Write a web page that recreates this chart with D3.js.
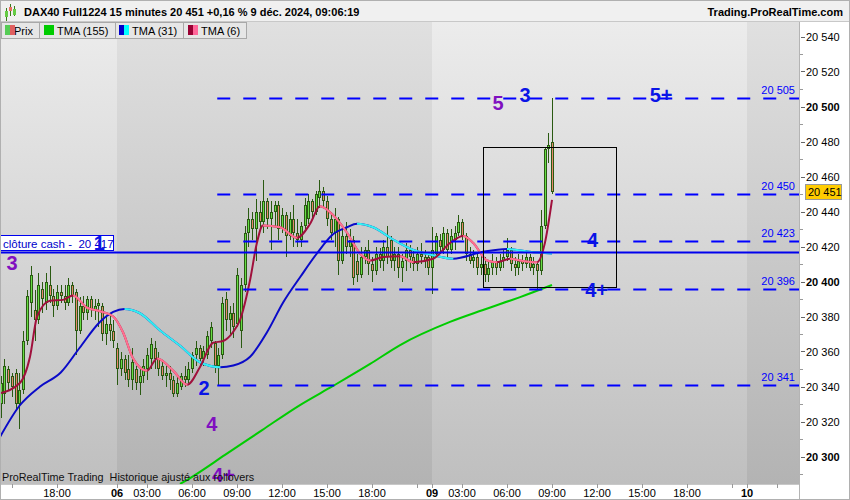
<!DOCTYPE html>
<html><head><meta charset="utf-8">
<script src="https://cdn.jsdelivr.net/npm/d3@7/dist/d3.min.js"></script>
<style>
html,body{margin:0;padding:0;background:#fff;}
svg{display:block;font-family:"Liberation Sans",Arial,sans-serif;}
text{white-space:pre;}
</style></head>
<body>
<svg id="chart" width="850" height="500"></svg>
<script>
// ================= DATA =================
// 15-minute bars, DAX40 Full1224, from 5 Dec 14:15 to 9 Dec 09:00
const barOpen  = [20330,20336,20350,20346,20348,20330,20338,20366,20388,20384,20378,20396,20388,20398,20392,20386,20394,20392,20388,20398,20394,20372,20386,20382,20390,20384,20386,20386,20370,20376,20372,
20362,20350,20356,20350,20344,20350,20342,20346,20350,20356,20362,20356,20352,20346,20348,20344,20336,20340,20346,20344,20350,20358,20362,20356,20358,20366,20365,20352,20358,20390,20378,20382,20376,20372,20398,20428,20436,20430,20440,20434,20446,20436,20440,20444,20430,20438,20426,20436,20428,20424,20432,20436,20446,20440,20448,20452,20446,20436,20428,20436,20412,20426,20420,20424,20412,20404,20414,20418,20410,20406,20416,20412,20420,20424,20412,20416,20408,20412,20418,20414,20410,20416,20414,20414,
20408,20416,20424,20418,20428,20418,20424,20428,20434,20426,20416,20412,20414,20408,20410,20404,20408,20412,20408,20412,20414,20418,20410,20408,20412,20410,20414,20408,20410,20406,20432,20476,20480];
const barHigh  = [20346,20356,20352,20348,20350,20348,20372,20395,20409,20395,20405,20400,20405,20409,20396,20398,20398,20398,20402,20400,20396,20391,20392,20392,20392,20390,20390,20388,20380,20382,20378,
20365,20360,20358,20358,20362,20352,20350,20356,20362,20368,20366,20360,20354,20352,20352,20346,20346,20348,20352,20354,20360,20366,20364,20363,20372,20377,20366,20362,20391,20394,20386,20388,20408,20402,20432,20442,20440,20447,20446,20458,20448,20446,20446,20446,20442,20440,20440,20444,20436,20434,20448,20450,20447,20452,20458,20454,20449,20440,20442,20437,20430,20434,20430,20426,20416,20420,20420,20424,20414,20420,20419,20424,20432,20426,20420,20420,20416,20422,20421,20418,20420,20422,20418,20416,
20431,20428,20427,20431,20430,20430,20432,20438,20436,20428,20420,20418,20416,20416,20414,20412,20416,20414,20416,20418,20425,20420,20414,20416,20415,20418,20416,20414,20412,20441,20477,20485,20505];
const barLow   = [20322,20330,20338,20334,20326,20316,20336,20364,20380,20366,20376,20382,20384,20388,20380,20384,20388,20384,20386,20388,20358,20370,20378,20378,20380,20378,20374,20366,20364,20366,20362,
20341,20346,20344,20340,20338,20338,20335,20342,20344,20350,20350,20346,20344,20340,20338,20334,20334,20338,20340,20342,20348,20352,20352,20352,20356,20362,20348,20341,20356,20372,20370,20368,20374,20362,20394,20420,20424,20412,20430,20428,20430,20418,20432,20424,20428,20414,20424,20420,20420,20420,20430,20433,20436,20438,20442,20442,20432,20424,20420,20404,20410,20416,20414,20398,20400,20402,20410,20404,20400,20404,20408,20406,20410,20408,20406,20402,20400,20406,20408,20406,20406,20410,20408,20404,
20393,20414,20416,20416,20414,20416,20418,20426,20424,20412,20410,20408,20404,20404,20400,20400,20404,20404,20406,20408,20412,20406,20403,20404,20406,20408,20406,20404,20396,20404,20430,20468,20450];
const barClose = [20342,20352,20342,20340,20330,20338,20366,20392,20404,20378,20398,20390,20400,20392,20386,20394,20392,20388,20398,20392,20372,20386,20382,20390,20384,20386,20388,20370,20376,20372,20366,
20350,20356,20348,20344,20354,20342,20346,20352,20358,20364,20356,20350,20346,20348,20344,20336,20342,20346,20344,20350,20358,20362,20356,20360,20369,20374,20352,20358,20388,20378,20382,20374,20404,20398,20428,20436,20430,20440,20434,20446,20436,20440,20444,20430,20438,20426,20436,20428,20424,20432,20444,20446,20440,20450,20452,20446,20436,20428,20436,20412,20426,20420,20424,20402,20404,20414,20418,20410,20406,20416,20412,20420,20414,20412,20416,20408,20412,20418,20414,20410,20416,20414,20412,20408,
20418,20426,20420,20428,20418,20426,20428,20434,20426,20416,20412,20414,20408,20410,20404,20408,20412,20408,20412,20414,20418,20410,20408,20412,20410,20414,20408,20410,20406,20432,20476,20478,20451];

// time of first bar, in trading hours after 5 Dec 18:00 (sessions 01:00-22:00 joined)
const firstBarHour = -3.75;
const barHours = 0.25;

// x axis ticks (trading hours after 5 Dec 18:00) and labels
const xTickHours  = [-3, 0, 4, 6, 9, 12, 15, 18, 21, 24, 25, 27, 30, 33, 36, 39, 42, 45, 46, 48];
const xTickLabels = ["", "18:00", "06", "03:00", "06:00", "09:00", "12:00", "15:00", "18:00", "", "09", "03:00", "06:00", "09:00", "12:00", "15:00", "18:00", "", "10", ""];
const dayStartHours = [-10, 4, 25, 46];

// y axis ticks
const yTickValues = [20300, 20320, 20340, 20360, 20380, 20400, 20420, 20440, 20460, 20480, 20500, 20520, 20540];
const yMinorValues = [20290, 20310, 20330, 20350, 20370, 20390, 20410, 20430, 20450, 20470, 20490, 20510, 20530, 20550];
const yBoldValues = [20300, 20400, 20500];

// horizontal levels
const levelValues = [20505, 20450, 20423, 20396, 20341];
const levelStartBar = 58;
const cashValue = 20417;
const lastPrice = 20451;

// moving averages (bar index, value)
const tma155Idx = [47.8, 50.5, 59.8, 69.7, 79.8, 88.6, 98.5, 106.5, 119.8, 128.6, 138.5, 147];
const tma155Val = [20284.3, 20287.7, 20300.9, 20315.1, 20329.4, 20340.3, 20352.9, 20363.7, 20376.9, 20383.7, 20391.1, 20398];

const tma31Idx = [-0.5, 5, 10.5, 16, 21, 26.5, 30, 33, 37, 42.5, 48, 53, 58.5, 62, 66.5, 71, 75.3, 80, 84.3, 88.6, 92.3, 95, 99.3, 104.6, 110, 115.3, 120.6, 128.6, 135, 141, 147];
const tma31Val = [20310, 20329, 20340, 20348, 20362, 20377, 20382.6, 20384.3, 20382, 20372, 20363, 20354, 20351, 20352, 20357, 20371, 20388, 20403, 20416, 20427, 20431, 20433, 20431, 20424, 20418, 20415, 20413, 20417, 20418.6, 20417, 20416];

const tma6Idx = [-0.5, 5.1, 7.8, 9.7, 13.1, 16.6, 19.3, 23, 26.5, 30, 32.6, 35.3, 39, 41.7, 46, 49.7, 53.1, 56.6, 59.3, 61.9, 63.8, 66.5, 68.3, 69.9, 74.5, 79, 82.5, 85.1, 88.6, 92.3, 95.8, 98.5, 102, 106.5, 110, 115.3, 119.8, 123.3, 126, 129.7, 132.3, 135.8, 138.5, 143, 145.1, 147];
const tma6Val = [20336, 20342, 20357, 20380, 20389, 20389.5, 20392, 20385, 20383, 20380, 20371, 20356, 20349, 20356, 20349, 20341, 20351, 20365, 20366, 20371, 20378, 20401, 20422, 20432, 20431, 20425, 20433, 20443, 20438, 20428, 20416, 20412, 20414, 20414.5, 20411, 20413, 20422, 20426, 20422, 20412, 20411, 20413, 20412, 20411, 20422, 20446.6];

// Elliott wave annotations (bar index, price of baseline)
const waveText  = ["3", "1", "2", "4", "4+", "5", "3", "5+", "4", "4+"];
const waveIdx   = [3.0, 26.3, 54.2, 56.3, 59.4, 132.6, 139.8, 176.1, 157.8, 158.9];
const wavePrice = [20406.6, 20418, 20335.1, 20314.6, 20285.4, 20498, 20502.6, 20502.6, 20419.7, 20391.1];
const waveIsPurple = [true, false, false, true, true, true, false, false, false, false];

// box
const boxIdx = [128.6, 164.1];
const boxPrice = [20477, 20397];

// ================= DRAWING =================
const W = 850, H = 500;
const PL = 0, PR = 799, PT = 22, PB = 484;
const svg = d3.select("#chart");
const defs = svg.append("defs");

const x = d3.scaleLinear().domain([0, 33]).range([57, 552]);
const y = d3.scaleLinear().domain([20300, 20500]).range([456.5, 106.5]);
const barX = i => x(firstBarHour + i * barHours);

const fmt = v => d3.format(",")(v).replace(/,/g, " ");

// gradients
function grad(id, c1, c2) {
  const g = defs.append("linearGradient").attr("id", id).attr("x1", 0).attr("y1", 0).attr("x2", 0).attr("y2", 1);
  g.append("stop").attr("offset", 0).attr("stop-color", c1);
  g.append("stop").attr("offset", 1).attr("stop-color", c2);
}
grad("gLight", "#ececec", "#bfbfbf");
grad("gDark", "#e0e0e0", "#b3b3b3");

svg.append("rect").attr("width", W).attr("height", H).attr("fill", "#ffffff");
// header
svg.append("rect").attr("x", 0).attr("y", 0).attr("width", W).attr("height", PT).attr("fill", "#f0f0f0");

// plot clip
defs.append("clipPath").attr("id", "plotClip").append("rect")
  .attr("x", PL).attr("y", PT).attr("width", PR - PL).attr("height", PB - PT);

const plot = svg.append("g").attr("clip-path", "url(#plotClip)");

// day bands
dayStartHours.forEach((h, k) => {
  const x0 = Math.max(PL, x(h));
  const x1 = k < dayStartHours.length - 1 ? x(dayStartHours[k + 1]) : PR;
  plot.append("rect").attr("x", x0).attr("y", PT).attr("width", Math.min(PR, x1) - x0).attr("height", PB - PT)
    .attr("fill", k % 2 === 0 ? "url(#gLight)" : "url(#gDark)");
});

// candles
const wickCol = "#2a5a12", upCol = "#66dd44", dnCol = "#e8866c";
const candles = plot.append("g").attr("shape-rendering", "crispEdges");
barOpen.forEach((o, i) => {
  const c = barClose[i];
  const r = Math.round(barX(i));
  candles.append("line").attr("x1", r + 0.5).attr("x2", r + 0.5)
    .attr("y1", y(barHigh[i])).attr("y2", y(barLow[i])).attr("stroke", wickCol).attr("stroke-width", 1);
  const top = Math.round(y(Math.max(o, c))), bot = Math.round(y(Math.min(o, c)));
  const h = Math.max(2, bot - top);
  candles.append("rect").attr("x", r - 1).attr("y", top).attr("width", 3).attr("height", h).attr("fill", wickCol);
  if (h > 2) candles.append("rect").attr("x", r).attr("y", top + 1).attr("width", 1).attr("height", h - 2)
    .attr("fill", c >= o ? upCol : dnCol);
});

// moving-average helper with slope colouring
let clipN = 0;
function maLine(idx, val, upColor, downColor, width) {
  const pts = idx.map((d, k) => [barX(d), y(val[k])]);
  const gen = d3.line().curve(d3.curveMonotoneX);
  plot.append("path").attr("d", gen(pts)).attr("fill", "none").attr("stroke", upColor)
    .attr("stroke-width", width).attr("stroke-linejoin", "round");
  if (downColor) {
    const id = "maclip" + (clipN++);
    const cp = defs.append("clipPath").attr("id", id);
    for (let k = 0; k < pts.length - 1; k++) {
      if (val[k + 1] < val[k]) {
        cp.append("rect").attr("x", pts[k][0]).attr("y", 0).attr("width", pts[k + 1][0] - pts[k][0] + 0.3).attr("height", H);
      }
    }
    plot.append("path").attr("d", gen(pts)).attr("fill", "none").attr("stroke", downColor)
      .attr("stroke-width", width).attr("stroke-linejoin", "round").attr("clip-path", "url(#" + id + ")");
  }
}
maLine(tma155Idx, tma155Val, "#00cc00", null, 2);
maLine(tma31Idx, tma31Val, "#0a0ac8", "#33f0f0", 2);
maLine(tma6Idx, tma6Val, "#a0103c", "#ff7090", 2);

// dashed levels
levelValues.forEach(v => {
  plot.append("line").attr("x1", barX(levelStartBar) - 1).attr("x2", PR)
    .attr("y1", Math.round(y(v)) + 0.5).attr("y2", Math.round(y(v)) + 0.5)
    .attr("stroke", "#0000ff").attr("stroke-width", 2).attr("stroke-dasharray", "13,13");
  plot.append("text").attr("x", 795).attr("y", Math.round(y(v)) - 4).attr("text-anchor", "end")
    .attr("font-size", 11).attr("fill", "#0000ff").text(fmt(v));
});

// cash close line
plot.append("line").attr("x1", PL).attr("x2", PR).attr("y1", Math.round(y(cashValue)) + 0.5).attr("y2", Math.round(y(cashValue)) + 0.5)
  .attr("stroke", "#0000ee").attr("stroke-width", 2);
plot.append("rect").attr("x", 0.5).attr("y", Math.round(y(cashValue)) - 16.5).attr("width", 113).attr("height", 15)
  .attr("fill", "#ffffff").attr("stroke", "#0000ee").attr("stroke-width", 1);
plot.append("text").attr("x", 3).attr("y", Math.round(y(cashValue)) - 4.5).attr("font-size", 11.5).attr("fill", "#0000cc")
  .text("clôture cash -  " + fmt(cashValue));

// box
plot.append("rect").attr("x", Math.round(barX(boxIdx[0])) + 0.5).attr("y", Math.round(y(boxPrice[0])) + 0.5)
  .attr("width", Math.round(barX(boxIdx[1]) - barX(boxIdx[0]))).attr("height", Math.round(y(boxPrice[1]) - y(boxPrice[0])))
  .attr("fill", "none").attr("stroke", "#000").attr("stroke-width", 1);

// wave labels
waveText.forEach((t, k) => {
  plot.append("text").attr("x", barX(waveIdx[k])).attr("y", y(wavePrice[k])).attr("text-anchor", "middle")
    .attr("font-size", 20).attr("font-weight", "bold").attr("fill", waveIsPurple[k] ? "#8010c0" : "#0a14e6").text(t);
});

// footer note
plot.append("text").attr("x", 2).attr("y", 481).attr("font-size", 10.8).attr("fill", "#111")
  .text("ProRealTime Trading  Historique ajusté aux rollovers");

// right axis panel
svg.append("line").attr("x1", PR + 0.5).attr("x2", PR + 0.5).attr("y1", PT).attr("y2", H).attr("stroke", "#b4b4b4");
const ra = svg.append("g").attr("shape-rendering", "crispEdges");
yMinorValues.forEach(v => {
  if (y(v) > PT && y(v) < PB) ra.append("line").attr("x1", PR + 1).attr("x2", PR + 4)
    .attr("y1", Math.round(y(v)) + 0.5).attr("y2", Math.round(y(v)) + 0.5).attr("stroke", "#999");
});
yTickValues.forEach(v => {
  ra.append("line").attr("x1", PR + 2).attr("x2", PR + 6)
    .attr("y1", Math.round(y(v)) + 0.5).attr("y2", Math.round(y(v)) + 0.5).attr("stroke", "#666");
  svg.append("text").attr("x", PR + 7).attr("y", y(v) + 4).attr("font-size", 11)
    .attr("font-weight", yBoldValues.includes(v) ? "bold" : "normal").attr("fill", "#000").text(fmt(v));
});
// last price tag
svg.append("rect").attr("x", PR + 6.5).attr("y", Math.round(y(lastPrice)) - 7.5).attr("width", 36).attr("height", 15)
  .attr("fill", "#ffcc00").attr("stroke", "#999");
svg.append("text").attr("x", PR + 9).attr("y", y(lastPrice) + 4).attr("font-size", 11).attr("fill", "#000").text(fmt(lastPrice));

// bottom axis
svg.append("line").attr("x1", 0).attr("x2", PR).attr("y1", PB + 0.5).attr("y2", PB + 0.5).attr("stroke", "#c8c8c8");
xTickHours.forEach((h, k) => {
  const xx = Math.round(x(h)) + 0.5;
  if (xx < 0 || xx > PR) return;
  svg.append("line").attr("x1", xx).attr("x2", xx).attr("y1", PB).attr("y2", PB + 4).attr("stroke", "#999");
  const lab = xTickLabels[k];
  if (lab) svg.append("text").attr("x", x(h)).attr("y", 497).attr("text-anchor", "middle").attr("font-size", 11)
    .attr("font-weight", lab.length === 2 ? "bold" : "normal").attr("fill", "#000").text(lab);
});

// title
const icon = svg.append("g").attr("shape-rendering", "crispEdges");
[[6, 8, 14, 6], [10, 4, 12, 4], [14, 6, 10, 6]].forEach((d, k) => {
  icon.append("line").attr("x1", d[0] + 0.5).attr("x2", d[0] + 0.5).attr("y1", d[1]).attr("y2", d[1] + d[2]).attr("stroke", "#3a7a1a");
  icon.append("rect").attr("x", d[0] - 1).attr("y", d[1] + 3).attr("width", 3).attr("height", d[3]).attr("fill", k === 1 ? "#e87060" : "#66cc44");
});
svg.append("text").attr("x", 24).attr("y", 16).attr("font-size", 11).attr("font-weight", "bold").attr("fill", "#000")
  .text("DAX40 Full1224 15 minutes 20 451 +0,16 % 9 déc. 2024, 09:06:19");
svg.append("text").attr("x", 843).attr("y", 16).attr("text-anchor", "end").attr("font-size", 11).attr("font-weight", "bold").attr("fill", "#000")
  .text("Trading.ProRealTime.com");
svg.append("line").attr("x1", 0).attr("x2", W).attr("y1", PT - 0.5).attr("y2", PT - 0.5).attr("stroke", "#c8c8c8");

// legend
const legendItems = [
  {name: "Prix", c1: "#55cc55", c2: "#e06060", x0: 1, w: 38, tx: 14},
  {name: "TMA (155)", c1: "#00cc00", c2: "#00cc00", x0: 39, w: 76, tx: 57},
  {name: "TMA (31)", c1: "#0000cc", c2: "#00ffff", x0: 115, w: 68, tx: 132},
  {name: "TMA (6)", c1: "#990033", c2: "#ff6699", x0: 183, w: 63, tx: 201}
];
const lg = svg.append("g");
legendItems.forEach(d => {
  lg.append("rect").attr("x", d.x0 + 0.5).attr("y", PT + 0.5).attr("width", d.w).attr("height", 16)
    .attr("fill", "#e6e6e6").attr("stroke", "#a8a8a8");
  lg.append("text").attr("x", d.tx).attr("y", PT + 12.5).attr("font-size", 11).attr("fill", "#000").text(d.name);
  const sx = d.name === "Prix" ? 5 : d.tx - 13;
  lg.append("rect").attr("x", sx).attr("y", PT + 3).attr("width", 5).attr("height", 10).attr("fill", d.c1);
  lg.append("rect").attr("x", sx + 5).attr("y", PT + 3).attr("width", 5).attr("height", 10).attr("fill", d.c2);
});
// outer frame
svg.append("rect").attr("x", 0.5).attr("y", 0.5).attr("width", W - 1).attr("height", H - 1).attr("fill", "none").attr("stroke", "#b0b0b0");
</script>
</body></html>
